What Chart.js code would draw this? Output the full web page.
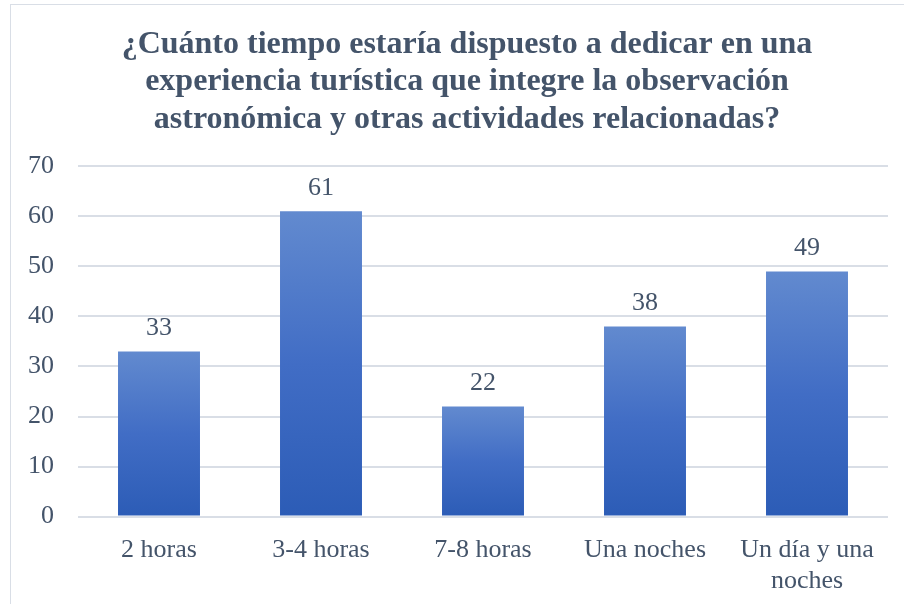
<!DOCTYPE html>
<html>
<head>
<meta charset="utf-8">
<script src="https://cdn.jsdelivr.net/npm/chart.js@4"></script>
<style>
  body { margin: 0; background: #fff; }
  #wrap { position: relative; width: 904px; height: 604px; overflow: hidden; }
  #frame { position: absolute; left: 10px; top: 4px; width: 1000px; height: 1000px; border: 1px solid #D9DEE6; }
  #chart { position: absolute; left: 0; top: 0; }
</style>
</head>
<body>
<div id="wrap">
  <div id="frame"></div>
  <canvas id="chart" width="904" height="604"></canvas>
</div>
<script>
const titleLines = [
  '¿Cuánto tiempo estaría dispuesto a dedicar en una',
  'experiencia turística que integre la observación',
  'astronómica y otras actividades relacionadas?'
];
const categories = ['2 horas', '3-4 horas', '7-8 horas', 'Una noches', ['Un día y una', 'noches']];
const values = [33, 61, 22, 38, 49];
const yTicks = [0, 10, 20, 30, 40, 50, 60, 70];

const textColor = '#44546A';
const serif = "'Liberation Serif', 'Times New Roman', serif";

// per-bar vertical gradient, lighter on top
function barGradient(context) {
  const chart = context.chart;
  if (!chart.chartArea || context.type !== 'data') return '#4472C4';
  const y = chart.scales.y;
  const top = y.getPixelForValue(context.parsed.y);
  const bottom = y.getPixelForValue(0);
  const g = chart.ctx.createLinearGradient(0, top, 0, bottom);
  g.addColorStop(0, '#628ACF');
  g.addColorStop(0.5, '#416DC5');
  g.addColorStop(1, '#2C5CB6');
  return g;
}

const valueLabels = {
  id: 'valueLabels',
  afterLayout(chart) {
    // title in the original is centred on the frame, a bit right of the canvas centre
    if (chart.titleBlock) chart.titleBlock.left += 42;
  },
  afterDatasetsDraw(chart) {
    const ctx = chart.ctx;
    const meta = chart.getDatasetMeta(0);
    ctx.save();
    ctx.font = '26px ' + serif;
    ctx.fillStyle = textColor;
    ctx.textAlign = 'center';
    ctx.textBaseline = 'bottom';
    meta.data.forEach((bar, i) => {
      ctx.fillText(String(values[i]), bar.x, bar.y - 10);
    });
    ctx.restore();
  }
};

new Chart(document.getElementById('chart'), {
  type: 'bar',
  data: {
    labels: categories,
    datasets: [{
      data: values,
      backgroundColor: barGradient,
      barPercentage: 0.506,
      categoryPercentage: 1
    }]
  },
  options: {
    responsive: false,
    animation: false,
    layout: { padding: { left: 4, right: 16, top: 0, bottom: -3 } },
    plugins: {
      legend: { display: false },
      tooltip: { enabled: false },
      title: {
        display: true,
        text: titleLines,
        color: textColor,
        font: { family: serif, size: 32, weight: 'bold', lineHeight: 1.17 },
        padding: { top: 26, bottom: 28 }
      }
    },
    scales: {
      x: {
        grid: { display: false },
        border: { display: false },
        ticks: {
          color: textColor,
          font: { family: serif, size: 26 },
          padding: 10,
          maxRotation: 0
        }
      },
      y: {
        min: 0,
        max: 70,
        afterBuildTicks(axis) { axis.ticks = yTicks.map(v => ({ value: v })); },
        grid: { color: '#D9DEE6', lineWidth: 2, drawTicks: false },
        border: { display: false },
        ticks: {
          color: textColor,
          font: { family: serif, size: 26 },
          padding: 24
        }
      }
    }
  },
  plugins: [valueLabels]
});
</script>
</body>
</html>
